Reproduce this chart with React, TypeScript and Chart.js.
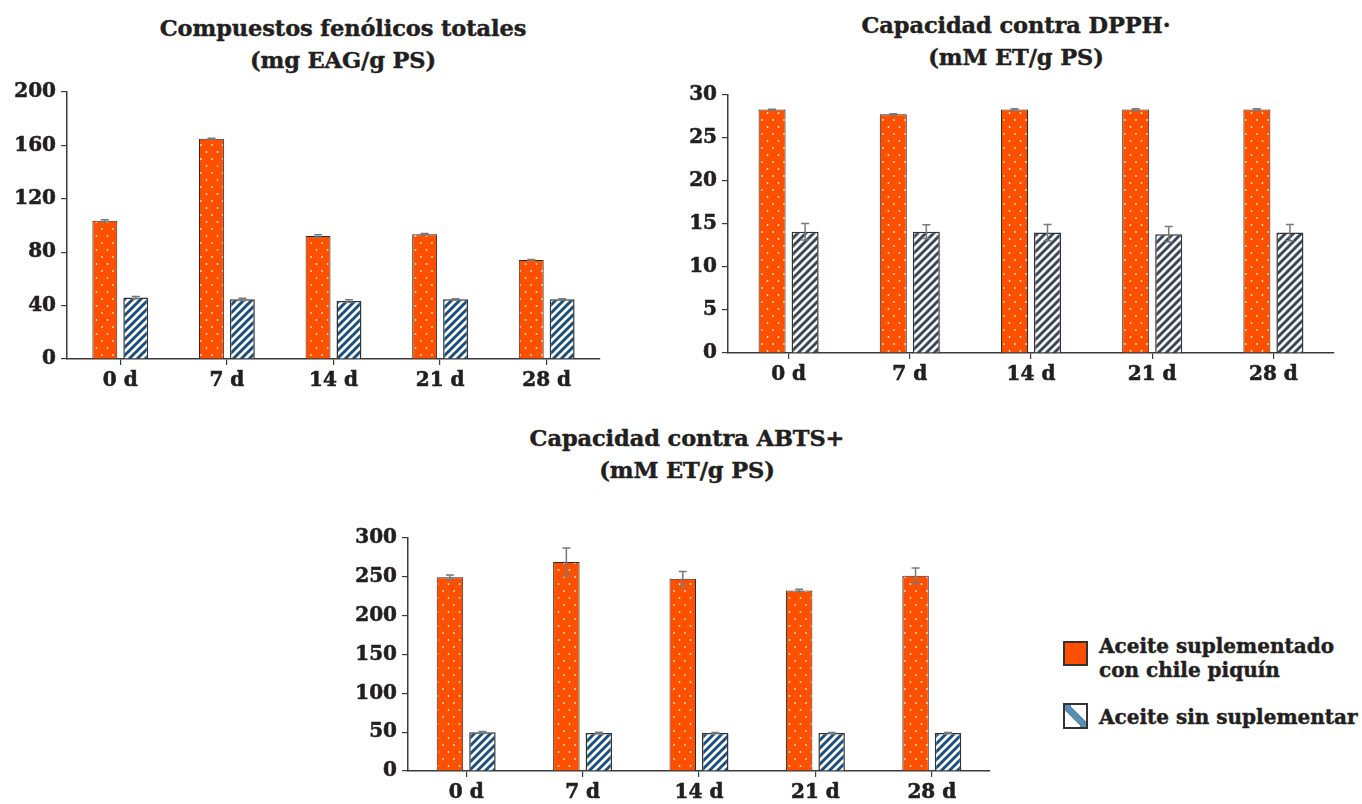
import React, { useEffect, useRef } from "react";
import { Chart, registerables } from "chart.js";
Chart.register(...registerables);

// ---------- data ----------
const categories = ["0 d", "7 d", "14 d", "21 d", "28 d"];
const seriesNames = ["Aceite suplementado con chile piquín", "Aceite sin suplementar"];

const fenolSup = [103.6, 165, 92.1, 93.4, 74.2];
const fenolSupErr = [0.8, 0.4, 0.9, 0.6, 0.3];
const fenolSin = [46, 44.7, 43.4, 44.8, 44.7];
const fenolSinErr = [0.8, 0.8, 0.9, 0.4, 0.4];
const fenolTicks = [0, 40, 80, 120, 160, 200];

const dpphSup = [28.3, 27.75, 28.3, 28.3, 28.3];
const dpphSupErr = [0.05, 0.08, 0.1, 0.1, 0.1];
const dpphSin = [14.1, 14.1, 14.0, 13.8, 14.0];
const dpphSinErr = [0.95, 0.8, 0.95, 0.9, 0.95];
const dpphTicks = [0, 5, 10, 15, 20, 25, 30];

const abtsSup = [249.5, 269, 247.5, 232.5, 251.5];
const abtsSupErr = [3, 18, 9.5, 1.5, 10];
const abtsSin = [50, 49, 49, 49, 49];
const abtsSinErr = [1, 1, 0.5, 0.5, 0.5];
const abtsTicks = [0, 50, 100, 150, 200, 250, 300];

// ---------- style ----------
const FONT = "'DejaVu Serif', serif";
const INK = "#231f20";
const ORANGE = "#ff5000";
const AXIS = "#3a3a3a";

function dotPattern() {
  const c = document.createElement("canvas");
  c.width = 11;
  c.height = 14;
  const x = c.getContext("2d")!;
  x.fillStyle = ORANGE;
  x.fillRect(0, 0, 11, 14);
  x.fillStyle = "rgba(255,255,255,0.85)";
  x.beginPath();
  x.arc(3, 3, 0.9, 0, Math.PI * 2);
  x.fill();
  x.beginPath();
  x.arc(8.5, 10, 0.9, 0, Math.PI * 2);
  x.fill();
  return x.createPattern(c, "repeat")!;
}

function stripePattern(color: string) {
  const s = 8;
  const c = document.createElement("canvas");
  c.width = s;
  c.height = s;
  const x = c.getContext("2d")!;
  x.fillStyle = "#ffffff";
  x.fillRect(0, 0, s, s);
  x.strokeStyle = color;
  x.lineWidth = 3;
  x.beginPath();
  x.moveTo(0, s);
  x.lineTo(s, 0);
  x.moveTo(-s / 2, s / 2);
  x.lineTo(s / 2, -s / 2);
  x.moveTo(s / 2, (3 * s) / 2);
  x.lineTo((3 * s) / 2, s / 2);
  x.stroke();
  return x.createPattern(c, "repeat")!;
}

type PanelProps = {
  left: number;
  top: number;
  width: number;
  height: number;
  yWidth: number;
  padTop: number;
  padBottom: number;
  ticks: number[];
  sup: number[];
  supErr: number[];
  sin: number[];
  sinErr: number[];
  stripe: string;
  catPct: number;
  barPct: number;
};

function BarPanel(p: PanelProps) {
  const ref = useRef<HTMLCanvasElement>(null);
  useEffect(() => {
    const errs = [p.supErr, p.sinErr];
    const errorPlugin = {
      id: "errBars",
      afterDatasetsDraw(chart: any) {
        const ctx = chart.ctx;
        const y = chart.scales.y;
        ctx.save();
        ctx.strokeStyle = "#7a7a7a";
        ctx.lineWidth = 1.5;
        chart.data.datasets.forEach((ds: any, i: number) => {
          const meta = chart.getDatasetMeta(i);
          meta.data.forEach((el: any, j: number) => {
            const v = ds.data[j];
            const e = errs[i][j];
            const yt = y.getPixelForValue(v + e);
            const yb = y.getPixelForValue(v - e);
            const xc = el.x;
            ctx.beginPath();
            ctx.moveTo(xc, yt);
            ctx.lineTo(xc, yb);
            ctx.moveTo(xc - 4, yt);
            ctx.lineTo(xc + 4, yt);
            ctx.moveTo(xc - 4, yb);
            ctx.lineTo(xc + 4, yb);
            ctx.stroke();
          });
        });
        ctx.restore();
      },
    };
    const tickFont = { family: FONT, weight: "bold" as const, size: 20, lineHeight: 1.2 };
    const chart = new Chart(ref.current!, {
      type: "bar",
      data: {
        labels: categories,
        datasets: [
          {
            label: seriesNames[0],
            data: p.sup,
            backgroundColor: dotPattern(),
            borderColor: "#2a2a2a",
            borderWidth: 1,
            categoryPercentage: p.catPct,
            barPercentage: p.barPct,
          },
          {
            label: seriesNames[1],
            data: p.sin,
            backgroundColor: stripePattern(p.stripe),
            borderColor: "#333333",
            borderWidth: 1.5,
            categoryPercentage: p.catPct,
            barPercentage: p.barPct,
          },
        ],
      },
      options: {
        responsive: false,
        animation: false,
        devicePixelRatio: 1,
        layout: { padding: { top: p.padTop, bottom: p.padBottom, left: 0, right: 10 } },
        plugins: {
          legend: { display: false },
          title: { display: false },
          tooltip: { enabled: false },
        },
        scales: {
          x: {
            grid: {
              offset: false,
              drawOnChartArea: false,
              drawTicks: true,
              tickLength: 6,
              color: AXIS,
              lineWidth: 1.2,
            },
            border: { display: true, color: AXIS, width: 1.5 },
            ticks: {
              font: tickFont,
              color: INK,
              padding: 4,
              maxRotation: 0,
              textStrokeColor: INK,
              textStrokeWidth: 0.6,
            },
          },
          y: {
            min: p.ticks[0],
            max: p.ticks[p.ticks.length - 1],
            afterBuildTicks: (s: any) => {
              s.ticks = p.ticks.map((v) => ({ value: v }));
            },
            afterFit: (s: any) => {
              s.width = p.yWidth;
            },
            grid: {
              drawOnChartArea: false,
              drawTicks: true,
              tickLength: 6,
              color: AXIS,
              lineWidth: 1.2,
            },
            border: { display: true, color: AXIS, width: 1.5 },
            ticks: {
              font: tickFont,
              color: INK,
              padding: 5,
              textStrokeColor: INK,
              textStrokeWidth: 0.6,
            },
          },
        },
      },
      plugins: [errorPlugin],
    });
    return () => chart.destroy();
  }, []);
  return (
    <canvas
      ref={ref}
      width={p.width}
      height={p.height}
      style={{ position: "absolute", left: p.left, top: p.top, width: p.width, height: p.height }}
    />
  );
}

const heavyText = {
  fontFamily: FONT,
  fontWeight: "bold" as const,
  color: INK,
  whiteSpace: "nowrap" as const,
  WebkitTextStroke: "0.45px " + INK,
};

function Title({ cx, top, lines }: { cx: number; top: number; lines: string[] }) {
  return (
    <div
      style={{
        ...heavyText,
        position: "absolute",
        left: cx - 300,
        top,
        width: 600,
        textAlign: "center",
        fontSize: 22.5,
        letterSpacing: "-0.1px",
        lineHeight: "32px",
      }}
    >
      {lines.map((l, i) => (
        <div key={i}>{l}</div>
      ))}
    </div>
  );
}

export default function App() {
  return (
    <div
      style={{
        position: "fixed",
        left: 0,
        top: 0,
        width: 1362,
        height: 804,
        overflow: "hidden",
        background: "#ffffff",
      }}
    >
      <Title cx={343} top={12} lines={["Compuestos fenólicos totales", "(mg EAG/g PS)"]} />
      <Title cx={1016} top={9} lines={["Capacidad contra DPPH·", "(mM ET/g PS)"]} />
      <Title cx={687} top={422} lines={["Capacidad contra ABTS+", "(mM ET/g PS)"]} />

      <BarPanel
        left={0}
        top={72}
        width={610}
        height={332}
        yWidth={67}
        padTop={20}
        padBottom={7}
        ticks={fenolTicks}
        sup={fenolSup}
        supErr={fenolSupErr}
        sin={fenolSin}
        sinErr={fenolSinErr}
        stripe="#1d4f7c"
        catPct={0.58}
        barPct={0.806}
      />
      <BarPanel
        left={660}
        top={75}
        width={684}
        height={322}
        yWidth={68}
        padTop={20}
        padBottom={6}
        ticks={dpphTicks}
        sup={dpphSup}
        supErr={dpphSupErr}
        sin={dpphSin}
        sinErr={dpphSinErr}
        stripe="#3b475a"
        catPct={0.545}
        barPct={0.818}
      />
      <BarPanel
        left={330}
        top={518}
        width={670}
        height={300}
        yWidth={78}
        padTop={20}
        padBottom={9}
        ticks={abtsTicks}
        sup={abtsSup}
        supErr={abtsSupErr}
        sin={abtsSin}
        sinErr={abtsSinErr}
        stripe="#1d4f7c"
        catPct={0.558}
        barPct={0.815}
      />

      {/* legend */}
      <div
        style={{
          position: "absolute",
          left: 1063,
          top: 641,
          width: 25,
          height: 25,
          boxSizing: "border-box",
          border: "2.5px solid #333",
          background: ORANGE,
        }}
      />
      <div
        style={{
          ...heavyText,
          position: "absolute",
          left: 1099,
          top: 634,
          fontSize: 20,
          lineHeight: "24px",
        }}
      >
        <div>Aceite suplementado</div>
        <div>con chile piquín</div>
      </div>
      <div
        style={{
          position: "absolute",
          left: 1063,
          top: 703,
          width: 25,
          height: 26,
          boxSizing: "border-box",
          border: "2.5px solid #333",
          background:
            "linear-gradient(to top right, #ffffff 38%, #5a8db2 38%, #5a8db2 62%, #ffffff 62%)",
        }}
      />
      <div
        style={{
          ...heavyText,
          position: "absolute",
          left: 1099,
          top: 705,
          fontSize: 20,
          lineHeight: "24px",
        }}
      >
        Aceite sin suplementar
      </div>
    </div>
  );
}
